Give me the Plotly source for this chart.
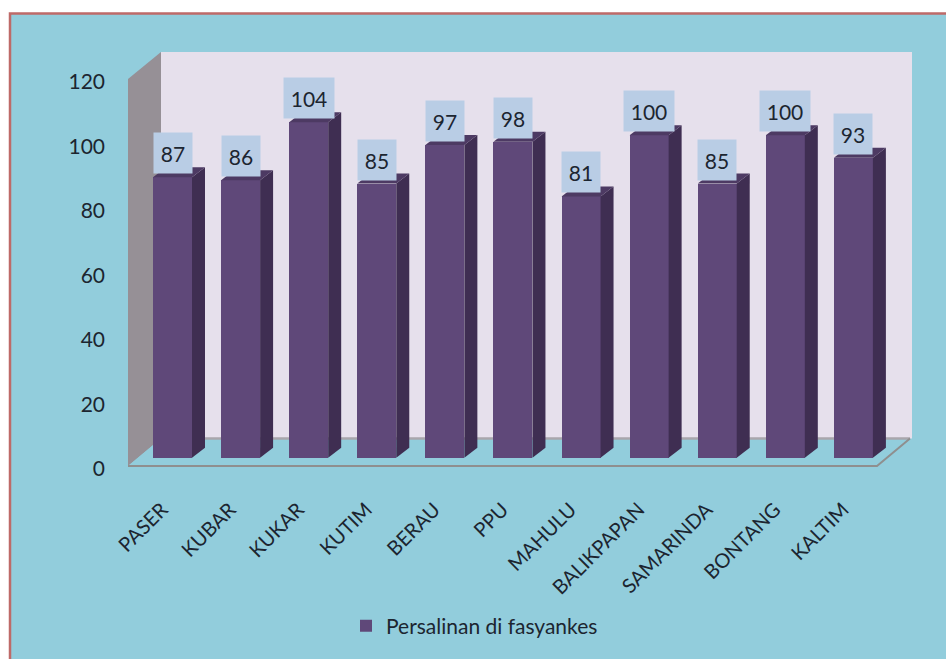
import plotly.graph_objects as go

categories = ["PASER", "KUBAR", "KUKAR", "KUTIM", "BERAU", "PPU", "MAHULU",
              "BALIKPAPAN", "SAMARINDA", "BONTANG", "KALTIM"]
values = [87, 86, 104, 85, 97, 98, 81, 100, 85, 100, 93]
series_name = "Persalinan di fasyankes"
y_ticks = [0, 20, 40, 60, 80, 100, 120]

W, H = 946, 659
FONT = "Lato"
TEXT = "#1c2530"
BG = "#92CDDC"
WALL = "#E6E0EC"
SIDEWALL = "#969096"
GRID = "#8F8F8F"
FRONT = "#5F4879"
SIDE = "#3F2E52"
TOP = "#4D3A63"
LABEL_BG = "#B9CDE5"

# pixel geometry of the chart frame -> axis scales
PX_X0, STEP = 128.0, 68.09      # front plane left edge, px per category
PX_Y0, UNIT = 466.0, 3.225      # front plane baseline, px per value unit
PAD = 3                         # px of room so the floor line isn't clipped
PX_R, PX_T = 914.0, 52.0

x0 = -0.5
xr = [x0, x0 + (PX_R - PX_X0) / STEP]
yr = [-PAD / UNIT, (PX_Y0 - PX_T) / UNIT]

# depth of the 3D box and of each bar, in axis units
box_dx, box_dy = 33 / STEP, 27.5 / UNIT
bar_base = 8.3 / UNIT
bar_shift = 0.1535
bar_w = 39 / STEP
bar_dx, bar_dy = 13 / STEP, 10 / UNIT

idx = list(range(len(categories)))
fig = go.Figure()

# side and top faces are derived from the values
for i, v in zip(idx, values):
    xl = i + bar_shift - bar_w / 2
    xr_ = i + bar_shift + bar_w / 2
    top = v + bar_base
    fig.add_trace(go.Scatter(
        x=[xr_, xr_ + bar_dx, xr_ + bar_dx, xr_, xr_],
        y=[bar_base, bar_base + bar_dy, top + bar_dy, top, bar_base],
        mode="lines", fill="toself", fillcolor=SIDE, line=dict(width=0),
        showlegend=False, hoverinfo="skip"))
    fig.add_trace(go.Scatter(
        x=[xl, xr_, xr_ + bar_dx, xl + bar_dx, xl],
        y=[top, top, top + bar_dy, top + bar_dy, top],
        mode="lines", fill="toself", fillcolor=TOP, line=dict(width=0),
        showlegend=False, hoverinfo="skip"))

fig.add_trace(go.Bar(
    x=[i + bar_shift for i in idx], y=values, base=bar_base, width=bar_w,
    name=series_name, marker=dict(color=FRONT, line=dict(width=0)),
    showlegend=True))

shapes = [
    # panel with its red border
    dict(type="rect", xref="paper", yref="paper",
         x0=10 / W, x1=1.01, y0=-0.01, y1=1 - 13.5 / H,
         fillcolor=BG, line=dict(color="#BE6A68", width=2.5), layer="below"),
    # back wall
    dict(type="rect", xref="x", yref="y", x0=x0 + box_dx, x1=xr[1] - 2 / STEP,
         y0=box_dy, y1=yr[1], fillcolor=WALL, line=dict(width=0), layer="below"),
    # left wall
    dict(type="path", xref="x", yref="y",
         path=f"M{x0},0 L{x0 + box_dx},{box_dy} L{x0 + box_dx},{yr[1]} L{x0},120 Z",
         fillcolor=SIDEWALL, line=dict(width=0), layer="below"),
    # floor
    dict(type="path", xref="x", yref="y",
         path=f"M{x0},0 L{len(categories) + x0},0 L{len(categories) + x0 + box_dx},{box_dy} "
              f"L{x0 + box_dx},{box_dy} Z",
         fillcolor=BG, line=dict(width=0), layer="below"),
    dict(type="line", xref="x", yref="y", x0=x0 + box_dx, x1=len(categories) + x0 + box_dx,
         y0=box_dy, y1=box_dy, line=dict(color="#A9A6AC", width=2.5), layer="below"),
    dict(type="path", xref="x", yref="y",
         path=f"M{x0},0 L{len(categories) + x0},0 L{len(categories) + x0 + box_dx},{box_dy}",
         line=dict(color=GRID, width=2), layer="below"),
]

annotations = [
    dict(x=i + bar_shift, y=v + bar_base, xref="x", yref="y", text=str(v),
         showarrow=False, xanchor="center", yanchor="bottom", yshift=3,
         width=48 if v >= 100 else 36, height=38, bgcolor=LABEL_BG,
         align="center", valign="middle",
         font=dict(family=FONT, size=21, color=TEXT))
    for i, v in zip(idx, values)
]

fig.update_layout(
    width=W, height=H, autosize=False,
    margin=dict(l=0, r=0, t=0, b=0, pad=0, autoexpand=False),
    paper_bgcolor="white", plot_bgcolor="rgba(0,0,0,0)",
    shapes=shapes, annotations=annotations, bargap=0,
    font=dict(family=FONT, size=20, color=TEXT),
    legend=dict(x=346 / W, y=1 - 626 / H, xanchor="left", yanchor="middle",
                bgcolor="rgba(0,0,0,0)", font=dict(family=FONT, size=21, color=TEXT)),
    xaxis=dict(domain=[PX_X0 / W, PX_R / W], range=xr, showgrid=False, zeroline=False,
               showline=False, tickmode="array", tickvals=idx, ticktext=categories,
               tickangle=-45, ticks="", ticklabelstandoff=24,
               tickfont=dict(family=FONT, size=20, color=TEXT)),
    yaxis=dict(domain=[1 - (PX_Y0 + PAD) / H, 1 - PX_T / H], range=yr, showgrid=False,
               zeroline=False, showline=False, tickmode="array", tickvals=y_ticks,
               ticks="", ticklabelstandoff=22, ticklabelshift=3,
               tickfont=dict(family=FONT, size=21, color=TEXT)),
)

fig.write_html("out.html", config=dict(displayModeBar=False),
               post_script="document.body.style.margin='0';")
